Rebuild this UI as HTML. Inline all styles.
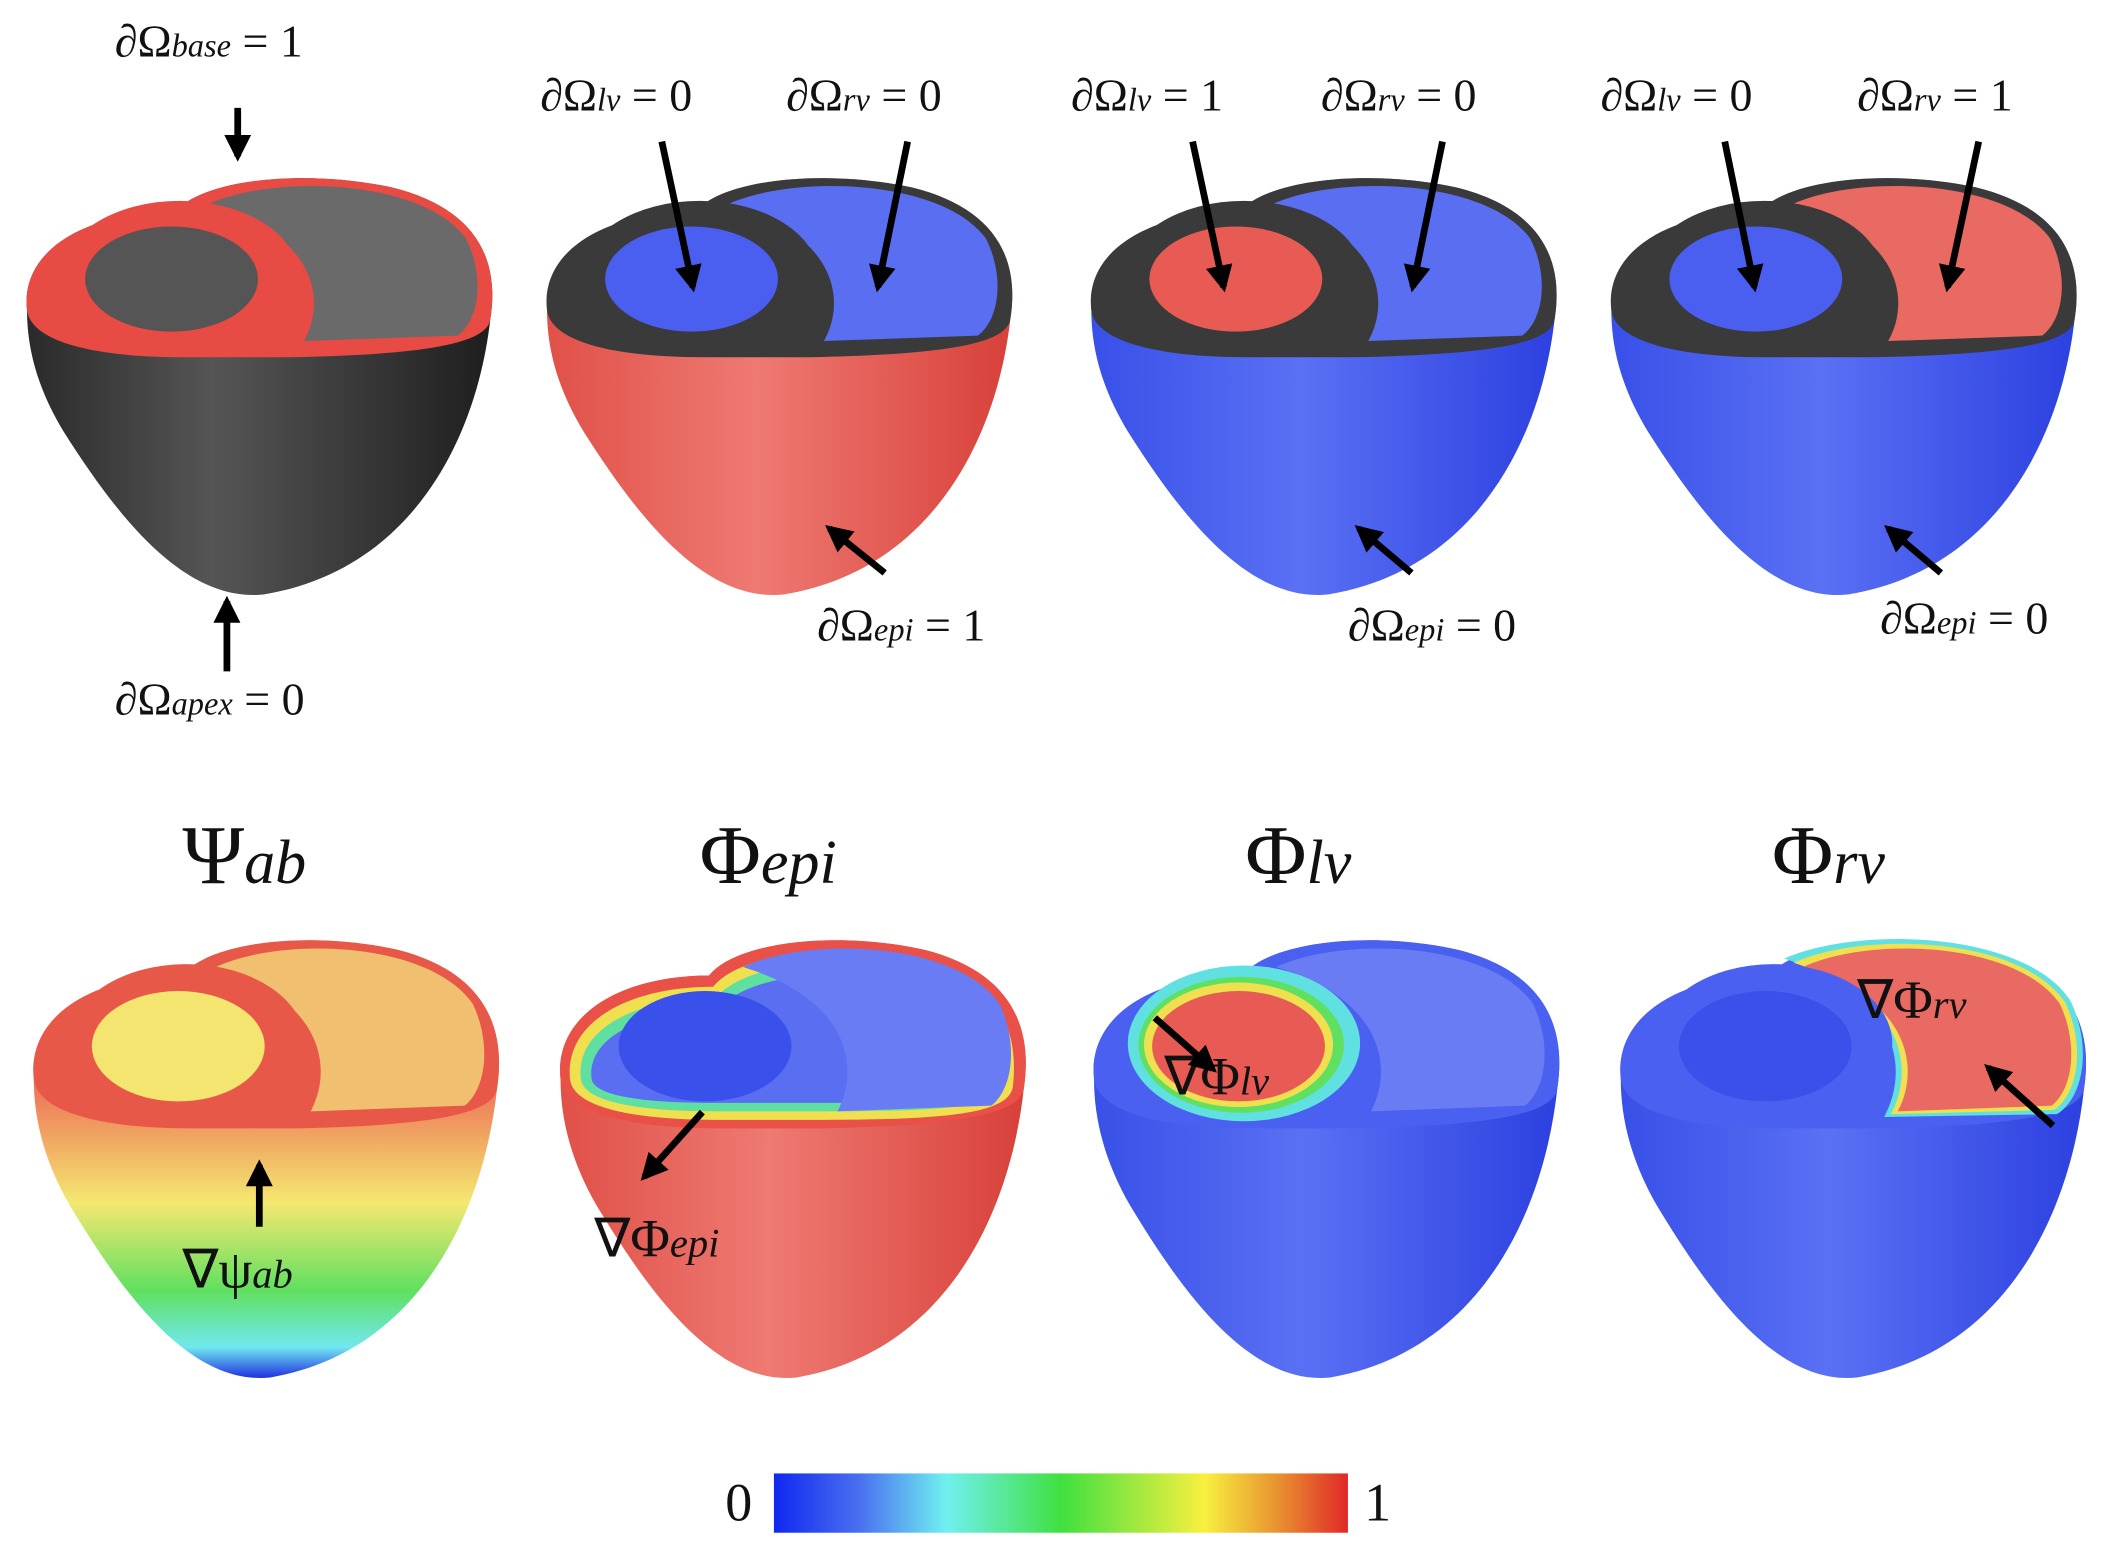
<!DOCTYPE html>
<html><head><meta charset="utf-8">
<style>
html,body{margin:0;padding:0;background:#fff;}
svg{display:block;}
text{font-family:"Liberation Serif",serif;fill:#111;}
</style></head>
<body>
<svg width="2107" height="1557" viewBox="0 0 1560 1155" preserveAspectRatio="none" xmlns="http://www.w3.org/2000/svg">
<defs>
  <marker id="ah" viewBox="0 0 10 10" refX="8" refY="5" markerWidth="4" markerHeight="4" orient="auto">
    <path d="M0,0 L10,5 L0,10 Z" fill="#000"/>
  </marker>
  <path id="outer" d="M5,105 C0,60 50,32 115,32 C135,8 210,0 275,14 C332,28 356,62 348,112 C338,200 290,298 180,316 C120,322 70,255 32,195 C12,162 5,132 5,105 Z"/>
  <path id="rim" d="M5,105 C0,60 50,32 115,32 C135,8 210,0 275,14 C332,28 356,62 348,112 C345,130 300,138 200,140 L120,140 C60,140 8,130 5,105 Z"/>
  <ellipse id="lvring" cx="118" cy="80" rx="88" ry="56"/>
  <ellipse id="lvcav" cx="112" cy="82" rx="64" ry="39"/>
  <path id="rvcav" d="M140,26 C190,4 298,8 330,52 C344,80 340,112 324,124 L210,128 C226,100 222,50 140,26 Z"/>
  <linearGradient id="cbar" x1="0" x2="1" y1="0" y2="0">
    <stop offset="0" stop-color="#1028f0"/><stop offset="0.15" stop-color="#4a70f0"/>
    <stop offset="0.3" stop-color="#70f0f0"/><stop offset="0.5" stop-color="#40e040"/>
    <stop offset="0.75" stop-color="#f8f040"/><stop offset="0.88" stop-color="#e89030"/>
    <stop offset="1" stop-color="#e02828"/>
  </linearGradient>
  <linearGradient id="abgrad" x1="0" x2="0" y1="0" y2="1">
    <stop offset="0" stop-color="#e85848"/><stop offset="0.35" stop-color="#ee7a5a"/>
    <stop offset="0.6" stop-color="#f4e870"/><stop offset="0.8" stop-color="#60e060"/>
    <stop offset="0.93" stop-color="#70e8f0"/><stop offset="1" stop-color="#2030e0"/>
  </linearGradient>
  <linearGradient id="graygrad" x1="0" x2="1" y1="0" y2="0">
    <stop offset="0" stop-color="#2a2a2a"/><stop offset="0.4" stop-color="#555"/><stop offset="1" stop-color="#1e1e1e"/>
  </linearGradient>
  <linearGradient id="redgrad" x1="0" x2="1" y1="0" y2="0">
    <stop offset="0" stop-color="#e05048"/><stop offset="0.45" stop-color="#ee7a72"/><stop offset="1" stop-color="#d8403a"/>
  </linearGradient>
  <linearGradient id="bluegrad" x1="0" x2="1" y1="0" y2="0">
    <stop offset="0" stop-color="#3850e8"/><stop offset="0.45" stop-color="#5a70f4"/><stop offset="1" stop-color="#2c40e0"/>
  </linearGradient>
</defs>

<!-- TOP ROW -->
<g transform="translate(15,125)">
  <use href="#outer" fill="url(#graygrad)"/>
  <use href="#rim" fill="#e84a44"/>
  <use href="#rvcav" fill="#6a6a6a"/>
  <use href="#lvring" fill="#e84a44"/>
  <use href="#lvcav" fill="#555"/>
</g>
<g transform="translate(400,125)">
  <use href="#outer" fill="url(#redgrad)"/>
  <use href="#rim" fill="#3a3a3a"/>
  <use href="#rvcav" fill="#5a6ef2"/>
  <use href="#lvring" fill="#3a3a3a"/>
  <use href="#lvcav" fill="#4a5ef0"/>
</g>
<g transform="translate(803,125)">
  <use href="#outer" fill="url(#bluegrad)"/>
  <use href="#rim" fill="#3a3a3a"/>
  <use href="#rvcav" fill="#5a6ef2"/>
  <use href="#lvring" fill="#3a3a3a"/>
  <use href="#lvcav" fill="#e85a54"/>
</g>
<g transform="translate(1188,125)">
  <use href="#outer" fill="url(#bluegrad)"/>
  <use href="#rim" fill="#3a3a3a"/>
  <use href="#rvcav" fill="#e86a62"/>
  <use href="#lvring" fill="#3a3a3a"/>
  <use href="#lvcav" fill="#4a5ef0"/>
</g>

<g font-size="34">
  <text x="85" y="42">∂Ω<tspan font-style="italic" font-size="24">base</tspan> = 1</text>
  <text x="85" y="530">∂Ω<tspan font-style="italic" font-size="24">apex</tspan> = 0</text>
  <text x="400" y="82">∂Ω<tspan font-style="italic" font-size="24">lv</tspan> = 0</text>
  <text x="582" y="82">∂Ω<tspan font-style="italic" font-size="24">rv</tspan> = 0</text>
  <text x="605" y="475">∂Ω<tspan font-style="italic" font-size="24">epi</tspan> = 1</text>
  <text x="793" y="82">∂Ω<tspan font-style="italic" font-size="24">lv</tspan> = 1</text>
  <text x="978" y="82">∂Ω<tspan font-style="italic" font-size="24">rv</tspan> = 0</text>
  <text x="998" y="475">∂Ω<tspan font-style="italic" font-size="24">epi</tspan> = 0</text>
  <text x="1185" y="82">∂Ω<tspan font-style="italic" font-size="24">lv</tspan> = 0</text>
  <text x="1375" y="82">∂Ω<tspan font-style="italic" font-size="24">rv</tspan> = 1</text>
  <text x="1392" y="470">∂Ω<tspan font-style="italic" font-size="24">epi</tspan> = 0</text>
</g>
<g stroke="#000" stroke-width="5" marker-end="url(#ah)">
  <line x1="176" y1="80" x2="176" y2="116"/>
  <line x1="168" y1="498" x2="168" y2="446"/>
  <line x1="490" y1="105" x2="513" y2="213"/>
  <line x1="672" y1="105" x2="650" y2="213"/>
  <line x1="655" y1="425" x2="614" y2="392"/>
  <line x1="883" y1="105" x2="906" y2="213"/>
  <line x1="1068" y1="105" x2="1046" y2="213"/>
  <line x1="1045" y1="425" x2="1006" y2="392"/>
  <line x1="1277" y1="105" x2="1299" y2="213"/>
  <line x1="1465" y1="105" x2="1442" y2="213"/>
  <line x1="1437" y1="425" x2="1398" y2="392"/>
</g>

<!-- BOTTOM TITLES -->
<g font-size="62">
  <text x="135" y="655">Ψ<tspan font-style="italic" font-size="46">ab</tspan></text>
  <text x="518" y="655">Φ<tspan font-style="italic" font-size="46">epi</tspan></text>
  <text x="922" y="655">Φ<tspan font-style="italic" font-size="46">lv</tspan></text>
  <text x="1312" y="655">Φ<tspan font-style="italic" font-size="46">rv</tspan></text>
</g>

<!-- BOTTOM ROW -->
<g transform="translate(20,690) scale(1,1.05)">
  <use href="#outer" fill="url(#abgrad)"/>
  <use href="#rim" fill="#e85848"/>
  <use href="#rvcav" fill="#f0c070"/>
  <use href="#lvring" fill="#e85848"/>
  <use href="#lvcav" fill="#f4e470"/>
</g>
<g transform="translate(410,690) scale(1,1.05)">
  <use href="#outer" fill="url(#redgrad)"/>
  <use href="#rim" fill="#e85048"/>
  <path d="M12,105 C8,65 55,40 118,40 C138,16 210,8 272,22 C325,35 345,65 340,110 C338,128 300,134 200,134 L120,134 C62,134 14,126 12,105 Z" fill="#f0e050"/>
  <path d="M20,105 C16,70 60,48 120,48 C140,24 210,16 270,30 C318,42 336,70 332,108 C330,124 300,128 200,128 L120,128 C65,128 22,122 20,105 Z" fill="#60e0a0"/>
  <path d="M28,105 C24,76 66,56 122,56 C142,32 210,24 268,38 C312,50 328,74 324,106 C322,120 300,122 200,122 L120,122 C70,122 30,118 28,105 Z" fill="#5a6ef2"/>
  <use href="#rvcav" fill="#6a7cf4"/>
  <use href="#lvcav" fill="#3a50ea"/>
</g>
<g transform="translate(805,690) scale(1,1.05)">
  <use href="#outer" fill="url(#bluegrad)"/>
  <use href="#rim" fill="#4a60f0"/>
  <use href="#rvcav" fill="#6a7cf4"/>
  <ellipse cx="116" cy="80" rx="86" ry="55" fill="#60e0e0"/>
  <ellipse cx="114" cy="81" rx="76" ry="48" fill="#60e060"/>
  <ellipse cx="112" cy="81" rx="70" ry="44" fill="#f0e050"/>
  <use href="#lvcav" fill="#e85a54"/>
</g>
<g transform="translate(1195,690) scale(1,1.05)">
  <use href="#outer" fill="url(#bluegrad)"/>
  <use href="#rim" fill="#4a60f0"/>
  <path d="M126,20 C185,-4 306,2 338,50 C354,82 348,118 328,130 L200,132 C218,100 214,48 126,20 Z" fill="#60e0e0"/>
  <path d="M133,23 C187,0 302,5 334,51 C349,81 344,115 326,127 L205,130 C222,100 218,49 133,23 Z" fill="#f0e050"/>
  <use href="#rvcav" fill="#e86a62"/>
  <use href="#lvring" fill="#4a60f0"/>
  <use href="#lvcav" fill="#3a50ea"/>
</g>

<g font-size="40">
  <text x="135" y="955">∇ψ<tspan font-style="italic" font-size="30">ab</tspan></text>
  <text x="440" y="932">∇Φ<tspan font-style="italic" font-size="30">epi</tspan></text>
  <text x="862" y="812">∇Φ<tspan font-style="italic" font-size="30">lv</tspan></text>
  <text x="1375" y="755">∇Φ<tspan font-style="italic" font-size="30">rv</tspan></text>
</g>
<g stroke="#000" stroke-width="5" marker-end="url(#ah)">
  <line x1="192" y1="910" x2="192" y2="864"/>
  <line x1="520" y1="825" x2="477" y2="873"/>
  <line x1="855" y1="755" x2="898" y2="793"/>
  <line x1="1520" y1="835" x2="1472" y2="792"/>
</g>

<!-- COLORBAR -->
<rect x="573" y="1093" width="425" height="44" fill="url(#cbar)"/>
<text x="537" y="1128" font-size="40">0</text>
<text x="1010" y="1128" font-size="40">1</text>
</svg>
</body></html>
